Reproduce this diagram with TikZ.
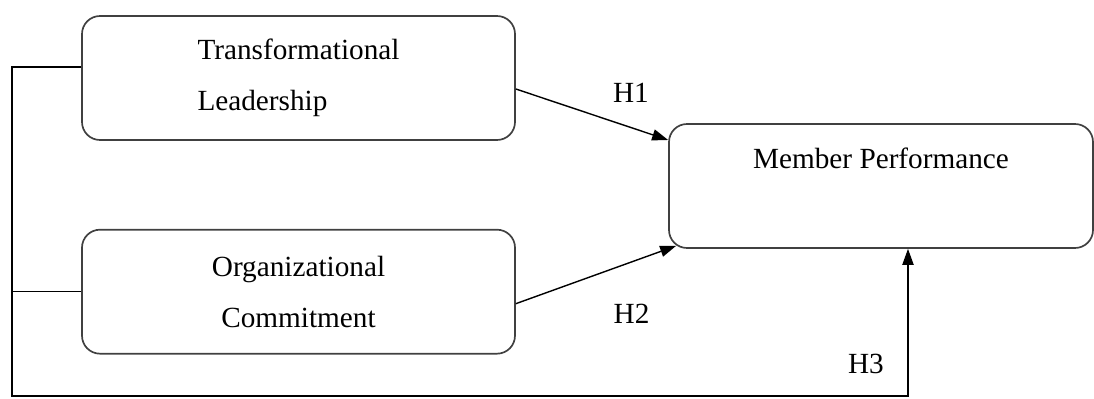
\documentclass[tikz,border=0pt]{standalone}
\usepackage{fontspec}
\setmainfont{Liberation Serif}
\usetikzlibrary{arrows.meta,positioning}

\begin{document}
\begin{tikzpicture}[
  font={\fontsize{20.8pt}{36.3pt}\selectfont},
  >={Triangle[length=0.4cm,width=0.28cm]},
  % Styles
  module/.style={draw=black!75,line width=1.2pt,rectangle,rounded corners=0.45cm,minimum width=10.825cm,minimum height=3.1cm,inner sep=0pt},
  arrowstyle/.style={->,line width=1pt},
  hyp/.style={anchor=base,inner sep=0pt},
  ]
\useasboundingbox (0,0) rectangle (27.35,9.95);

%--- Predictors -----------------------------------------------------
\node[module, align=left] (tl) at (7.4625,8.0) {Transformational\\Leadership};
\node[module, align=center, below=2.2cm of tl] (oc) {Organizational\\Commitment};

%--- Outcome --------------------------------------------------------
% text pushed up to the top of the box
\node[module, minimum width=10.6cm, text height=1.125cm, text depth=1.975cm]
  (mp) at (22.025,5.3) {Member Performance};

%--- Connections ----------------------------------------------------
\coordinate (corner) at (0.3,0.05);

% Both predictors joined on the left, running along the bottom to the outcome
\draw[arrowstyle] ([yshift=0.275cm]tl.west) -| (corner) -| ([xshift=0.675cm]mp.south);
\draw[line width=1pt] (oc.west) -- (oc.west -| corner);

% Direct paths
\draw[arrowstyle] ([yshift=-0.275cm]tl.east) -- ([yshift=1.15cm]mp.west);
\draw[arrowstyle] ([yshift=-0.3cm]oc.east) -- ([xshift=0.2cm,yshift=0.075cm]mp.south west);

% Hypotheses
\node[hyp] (h1) at (15.775,7.4) {H1};
\node[hyp] (h2) at (15.79,1.875) {H2};
\node[hyp] (h3) at (21.65,0.625) {H3};

\end{tikzpicture}
\end{document}
